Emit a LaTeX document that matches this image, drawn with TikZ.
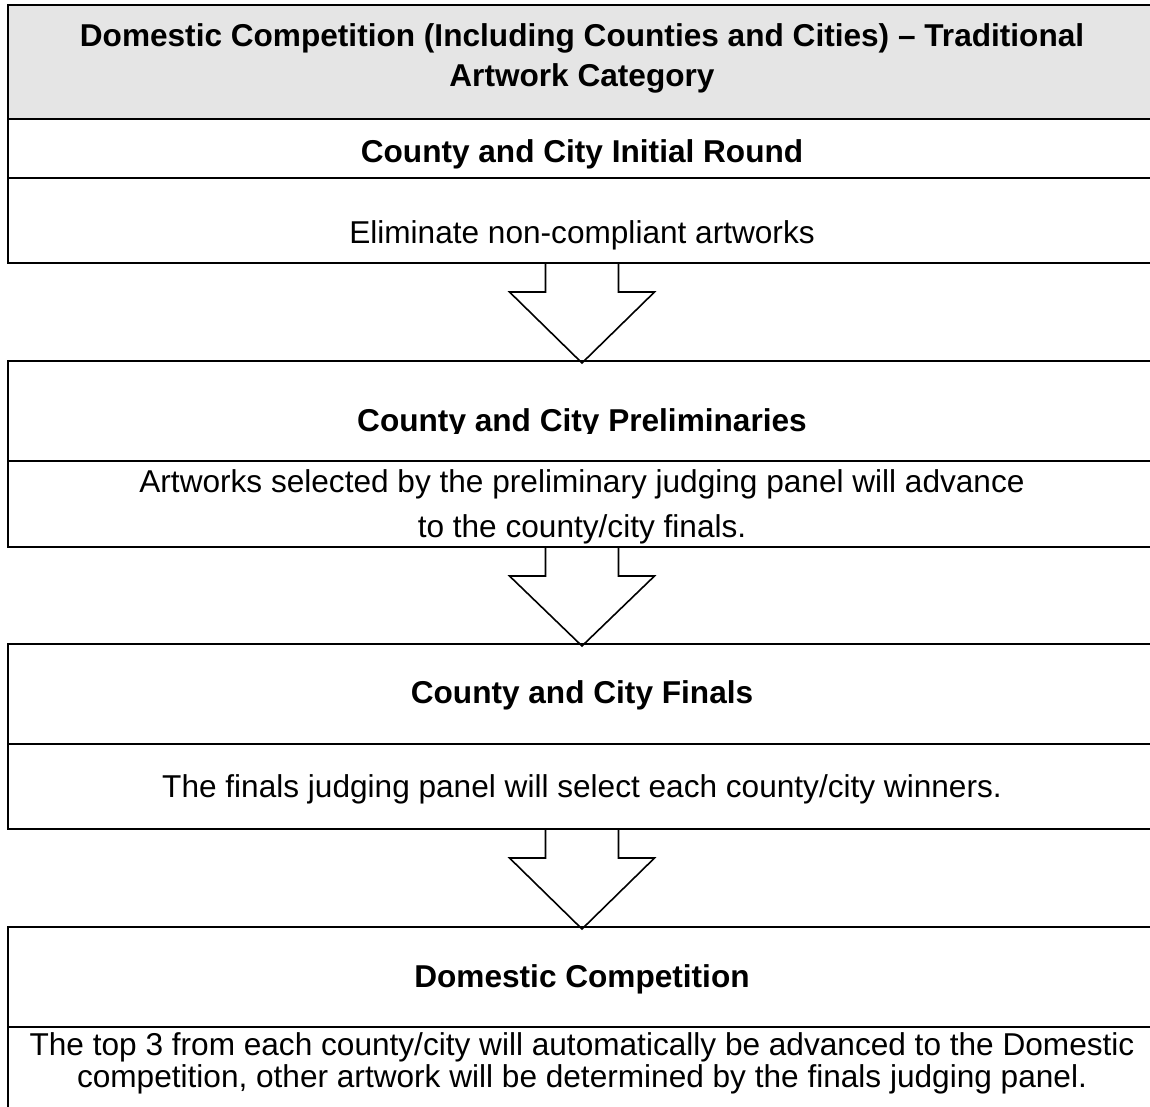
\documentclass[tikz,border=0pt]{standalone}
\usepackage{fontspec}
\setmainfont{Liberation Sans}
\usetikzlibrary{positioning}

\begin{document}
\begin{tikzpicture}[line width=1pt,node distance=0pt,
    part/.style={draw,minimum width=574pt,inner sep=0pt,outer sep=0pt},
    head/.style={anchor=base,inner sep=0pt,align=center,font=\fontsize{15.8}{20}\selectfont\bfseries},
    body/.style={anchor=base,inner sep=0pt,align=center,font=\fontsize{15.8}{18}\selectfont},
    down arrow/.style={line width=0.8pt,line join=miter}]
    \clip (0,0) rectangle (575pt,-553.5pt);

    % frames
    \node[part,fill=black!10,minimum height=57pt,anchor=north west] (h) at (4pt,-2.5pt) {};
    \node[part,minimum height=29.5pt] (t1) [below=of h] {};
    \node[part,minimum height=42.5pt] (b1) [below=of t1] {};
    \node[part,minimum height=50pt] (t2) [below=49pt of b1] {};
    \node[part,minimum height=43pt] (b2) [below=of t2] {};
    \node[part,minimum height=50pt] (t3) [below=48.5pt of b2] {};
    \node[part,minimum height=42.5pt] (b3) [below=of t3] {};
    \node[part,minimum height=50pt] (t4) [below=49pt of b3] {};
    \node[part,minimum height=42.5pt] (b4) [below=of t4] {};

    % texts (two-line nodes sit on their last baseline)
    \node[head] (ht) at ([yshift=-41pt]h.north) {Domestic Competition (Including Counties and Cities) -- Traditional\\Artwork Category};
    \node[head] (t1t) at ([yshift=-22pt]t1.north) {County and City Initial Round};
    \node[body] (b1t) at ([yshift=-32.5pt]b1.north) {Eliminate non-compliant artworks};
    \begin{scope}
        \clip (t2.north west) rectangle ([yshift=14pt]t2.south east);
        \node[head] (t2t) at ([yshift=-35pt]t2.north) {County and City Preliminaries};
    \end{scope}
    \node[body,font=\fontsize{15.8}{22.5}\selectfont] (b2t) at ([yshift=-38pt]b2.north) {Artworks selected by the preliminary judging panel will advance\\to the county/city finals.};
    \node[head] (t3t) at ([yshift=-29.5pt]t3.north) {County and City Finals};
    \node[body] (b3t) at ([yshift=-26.5pt]b3.north) {The finals judging panel will select each county/city winners.};
    \node[head] (t4t) at ([yshift=-30pt]t4.north) {Domestic Competition};
    \node[body,font=\fontsize{15.8}{13.5}\selectfont] (b4t) at ([yshift=-30pt]b4.north) {The top 3 from each county/city will automatically be advanced to the Domestic\\competition, other artwork will be determined by the finals judging panel.};

    % block arrows
    \draw[down arrow] ([xshift=-18.25pt]b1.south) -- ++(0,-14.5pt) -- ++(-18pt,0) -- ([yshift=-1pt]t2.north) -- ++(36.25pt,35.5pt) -- ++(-18pt,0) -- ++(0,14.5pt);
    \draw[down arrow] ([xshift=-18.25pt]b2.south) -- ++(0,-14.5pt) -- ++(-18pt,0) -- ([yshift=-1pt]t3.north) -- ++(36.25pt,35pt) -- ++(-18pt,0) -- ++(0,14.5pt);
    \draw[down arrow] ([xshift=-18.25pt]b3.south) -- ++(0,-14.5pt) -- ++(-18pt,0) -- ([yshift=-1pt]t4.north) -- ++(36.25pt,35.5pt) -- ++(-18pt,0) -- ++(0,14.5pt);
\end{tikzpicture}
\end{document}
